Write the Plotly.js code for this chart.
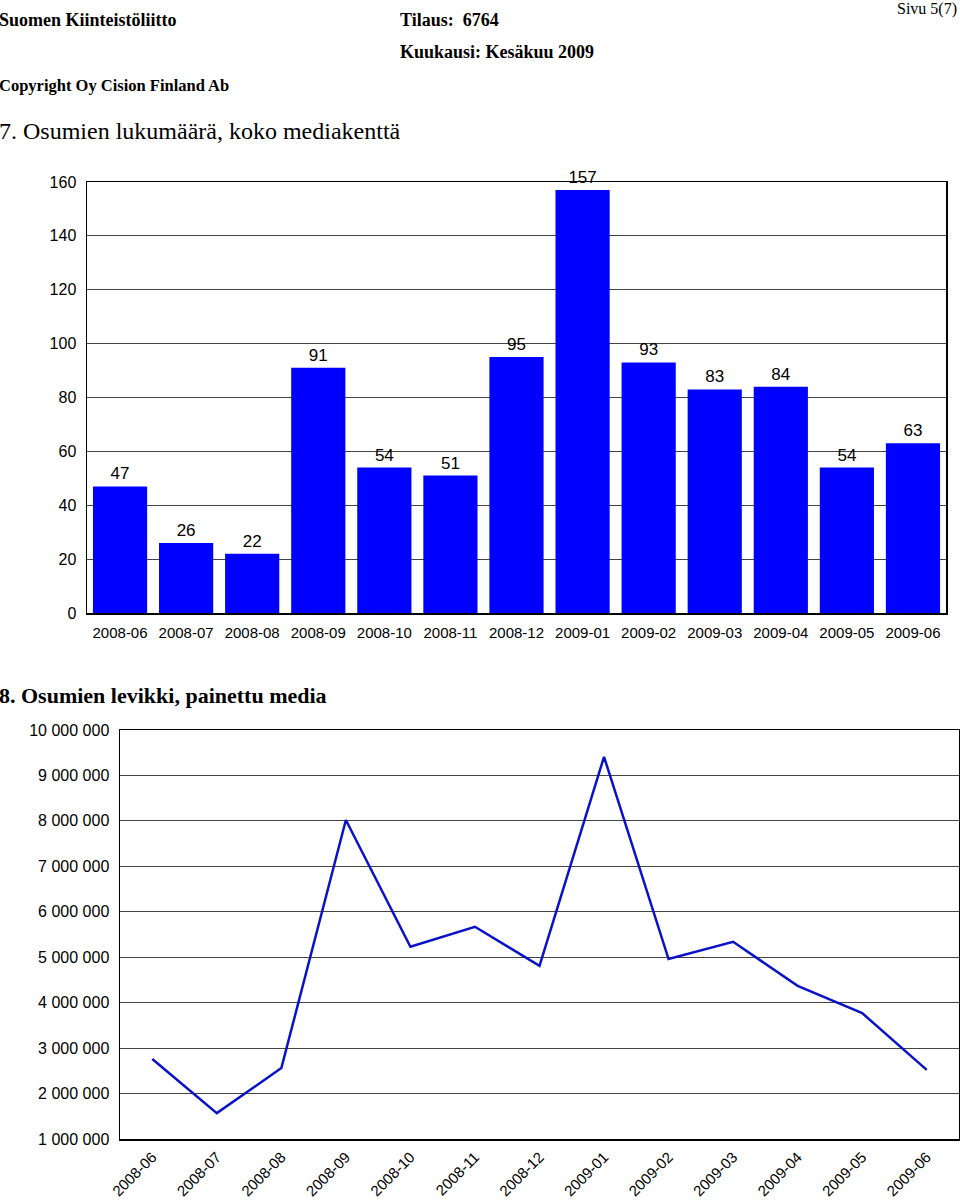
<!DOCTYPE html>
<html>
<head>
<meta charset="utf-8">
<script src="https://cdn.plot.ly/plotly-3.0.1.min.js"></script>
<style>html,body{margin:0;padding:0;background:#fff;}#chart{width:960px;height:1200px;}</style>
</head>
<body>
<div id="chart"></div>
<script>
var months = ["2008-06","2008-07","2008-08","2008-09","2008-10","2008-11","2008-12","2009-01","2009-02","2009-03","2009-04","2009-05","2009-06"];
var hits = [47, 26, 22, 91, 54, 51, 95, 157, 93, 83, 84, 54, 63];
var circulation = [2760000, 1570000, 2560000, 8020000, 5230000, 5670000, 4810000, 9410000, 4960000, 5340000, 4370000, 3770000, 2520000];
var barTicks = [0, 20, 40, 60, 80, 100, 120, 140, 160];
var lineTicks = [1000000, 2000000, 3000000, 4000000, 5000000, 6000000, 7000000, 8000000, 9000000, 10000000];

var W = 960, H = 1200;
function px(x){return x/W;}
function py(y){return 1 - y/H;}

var sans = "Liberation Sans, Arial, sans-serif";
var serif = "Liberation Serif, Times New Roman, serif";

var traces = [
  {type:"bar", x: months, y: hits, xaxis:"x", yaxis:"y",
   marker:{color:"#0000ff", line:{width:0}},
   text: hits.map(String), textposition:"outside", cliponaxis:false,
   textfont:{family:sans, size:17, color:"#000"}, hoverinfo:"x+y"},
  {type:"scatter", mode:"lines", x: months, y: circulation, xaxis:"x2", yaxis:"y2",
   line:{color:"#0a12c8", width:2.5}, hoverinfo:"x+y"}
];

var gridc = "#444";
var layout = {
  width: W, height: H,
  margin:{l:0,r:0,t:0,b:0},
  paper_bgcolor:"#fff", plot_bgcolor:"#fff",
  showlegend:false,
  separators:". ",
  bargap:0.18,
  font:{family:sans, color:"#000"},
  xaxis:{domain:[px(87), px(946)], anchor:"y", type:"category", range:[-0.5, 12.5],
    showline:true, linecolor:"#000", linewidth:1.5, mirror:true, showgrid:false,
    ticks:"", tickfont:{family:sans, size:15, color:"#000"}, ticklabelstandoff:5},
  yaxis:{domain:[py(613), py(182)], anchor:"x", range:[0,160],
    tickvals: barTicks, showline:true, linecolor:"#000", linewidth:1.5, mirror:true,
    showgrid:true, gridcolor:gridc, gridwidth:1, zeroline:false,
    ticks:"", tickfont:{family:sans, size:16, color:"#000"}, ticklabelstandoff:6},
  xaxis2:{domain:[px(120), px(959)], anchor:"y2", type:"category", range:[-0.5, 12.5],
    showline:true, linecolor:"#000", linewidth:1.5, mirror:true, showgrid:false,
    ticks:"", tickangle:-45, tickfont:{family:sans, size:15, color:"#000"}, ticklabelstandoff:2},
  yaxis2:{domain:[py(1139), py(730)], anchor:"x2", range:[1000000,10000000],
    tickvals: lineTicks, tickformat:",d", showline:true, linecolor:"#000", linewidth:1.5, mirror:true,
    showgrid:true, gridcolor:gridc, gridwidth:1, zeroline:false,
    ticks:"", tickfont:{family:sans, size:16, color:"#000"}, ticklabelstandoff:6},
  annotations:[
    {text:"<b>Suomen Kiinteistöliitto</b>", x:px(0), y:py(20), xshift:-3, xref:"paper", yref:"paper", xanchor:"left", yanchor:"middle", showarrow:false, font:{family:serif, size:18, color:"#000"}},
    {text:"<b>Tilaus:  6764</b>", x:px(400), y:py(20), xshift:-2, xref:"paper", yref:"paper", xanchor:"left", yanchor:"middle", showarrow:false, font:{family:serif, size:18, color:"#000"}},
    {text:"Sivu 5(7)", x:px(959), y:py(9), xref:"paper", yref:"paper", xanchor:"right", yanchor:"middle", showarrow:false, font:{family:serif, size:16, color:"#000"}},
    {text:"<b>Kuukausi: Kesäkuu 2009</b>", x:px(400), y:py(52), xshift:-2, xref:"paper", yref:"paper", xanchor:"left", yanchor:"middle", showarrow:false, font:{family:serif, size:18, color:"#000"}},
    {text:"<b>Copyright Oy Cision Finland Ab</b>", x:px(0), y:py(86), xshift:-3, xref:"paper", yref:"paper", xanchor:"left", yanchor:"middle", showarrow:false, font:{family:serif, size:16.5, color:"#000"}},
    {text:"7. Osumien lukumäärä, koko mediakenttä", x:px(0), y:py(131), xshift:-3, xref:"paper", yref:"paper", xanchor:"left", yanchor:"middle", showarrow:false, font:{family:serif, size:24, color:"#000"}},
    {text:"<b>8. Osumien levikki, painettu media</b>", x:px(0), y:py(695), xshift:-3, xref:"paper", yref:"paper", xanchor:"left", yanchor:"middle", showarrow:false, font:{family:serif, size:22, color:"#000"}}
  ]
};

Plotly.newPlot("chart", traces, layout, {displayModeBar:false, staticPlot:true});
</script>
</body>
</html>
